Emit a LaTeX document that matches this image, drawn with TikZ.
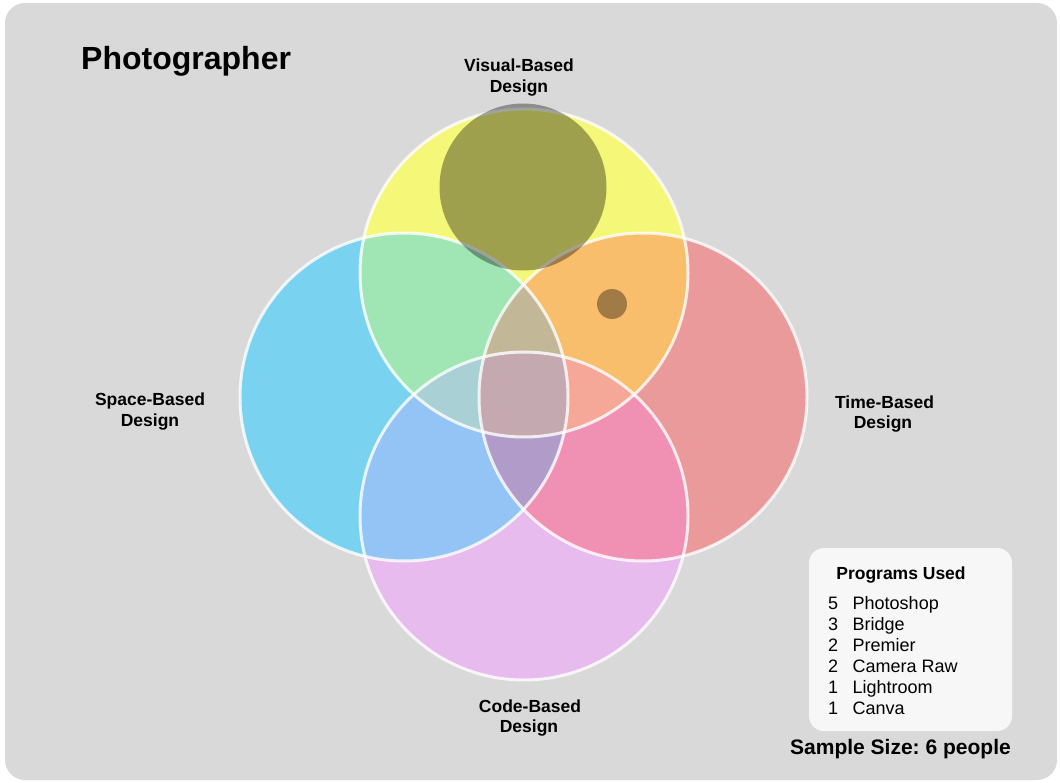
\documentclass[tikz,border=0pt]{standalone}
\usepackage{fontspec}
\setmainfont{Liberation Sans}
\frenchspacing
\begin{document}
\begin{tikzpicture}[x=1pt,y=-1pt,
  lbl/.style={font=\bfseries\fontsize{17.5}{21}\selectfont, anchor=base, inner sep=0pt},
  item/.style={font=\fontsize{18}{21}\selectfont, anchor=base west, inner sep=0pt},
  bord/.style={draw=white, draw opacity=0.8, line width=3pt},
  shade/.style={fill=black, fill opacity=0.35}]
\definecolor{bg}{HTML}{D9D9D9}
\definecolor{cY}{HTML}{F5F779}
\definecolor{cB}{HTML}{79D2F0}
\definecolor{cR}{HTML}{EB9A9B}
\definecolor{cP}{HTML}{E8BBEF}
\definecolor{cYB}{HTML}{A0E6B5}
\definecolor{cYR}{HTML}{F8BE6B}
\definecolor{cBP}{HTML}{94C4F6}
\definecolor{cRP}{HTML}{F091B4}
\definecolor{cYBP}{HTML}{A8D0D5}
\definecolor{cYRP}{HTML}{F5A898}
\definecolor{cYBR}{HTML}{C2B797}
\definecolor{cBRP}{HTML}{B19CC9}
\definecolor{cAll}{HTML}{C4A9B0}
\definecolor{legbg}{HTML}{F7F7F7}
\def\Yc{(524,273) circle (164pt)}
\def\Bc{(404,397) circle (164pt)}
\def\Rc{(643,397) circle (164pt)}
\def\Pc{(524,516) circle (164pt)}
\useasboundingbox (0,0) rectangle (1060,783);
\fill[white] (0,0) rectangle (1060,783);
\fill[bg, rounded corners=20pt] (5,3) rectangle (1057,780);
% single circles
\fill[cY] \Yc; \fill[cB] \Bc; \fill[cR] \Rc; \fill[cP] \Pc;
% pairs
\begin{scope}\clip \Yc; \fill[cYB] \Bc; \end{scope}
\begin{scope}\clip \Yc; \fill[cYR] \Rc; \end{scope}
\begin{scope}\clip \Bc; \fill[cBP] \Pc; \end{scope}
\begin{scope}\clip \Rc; \fill[cRP] \Pc; \end{scope}
\begin{scope}\clip \Yc; \fill[cAll] \Pc; \end{scope}
\begin{scope}\clip \Bc; \fill[cAll] \Rc; \end{scope}
% triples
\begin{scope}\clip \Yc; \clip \Bc; \fill[cYBP] \Pc; \end{scope}
\begin{scope}\clip \Yc; \clip \Rc; \fill[cYRP] \Pc; \end{scope}
\begin{scope}\clip \Yc; \clip \Bc; \fill[cYBR] \Rc; \end{scope}
\begin{scope}\clip \Bc; \clip \Rc; \fill[cBRP] \Pc; \end{scope}
% all four
\begin{scope}\clip \Yc; \clip \Bc; \clip \Rc; \fill[cAll] \Pc; \end{scope}
% borders
\draw[bord] \Yc; \draw[bord] \Bc; \draw[bord] \Rc; \draw[bord] \Pc;
% dark marks
\fill[shade] (523,187) circle (83.5pt);
\fill[shade] (612,304) circle (15pt);
% texts
\node[font=\bfseries\fontsize{32}{38}\selectfont, anchor=base west, inner sep=0pt] (title) at (81,70) {Photographer};
\node[lbl] (vis1) at (519,72) {Visual-Based};
\node[lbl] (vis2) at (519,92.5) {Design};
\node[lbl] (spa1) at (150,406) {Space-Based};
\node[lbl] (spa2) at (150,426.5) {Design};
\node[lbl] (tim1) at (884.5,408) {Time-Based};
\node[lbl] (tim2) at (883,428.5) {Design};
\node[lbl] (cod1) at (530,712) {Code-Based};
\node[lbl] (cod2) at (529,732.5) {Design};
% legend
\fill[legbg, rounded corners=15pt] (809,548) rectangle (1012,731);
\node[lbl, font=\bfseries\fontsize{17.5}{21}\selectfont] (legt) at (901,579) {Programs Used};
\foreach \n/\t [count=\i from 0] in {5/Photoshop,3/Bridge,2/Premier,2/Camera Raw,1/Lightroom,1/Canva}{
  \node[item] (num\i) at (828,609+21*\i) {\n};
  \node[item] (prog\i) at (852.5,609+21*\i) {\t};
}
\node[font=\bfseries\fontsize{21}{25}\selectfont, anchor=base west, inner sep=0pt] (sample) at (790,754.5) {Sample Size: 6 people};
\end{tikzpicture}
\end{document}
